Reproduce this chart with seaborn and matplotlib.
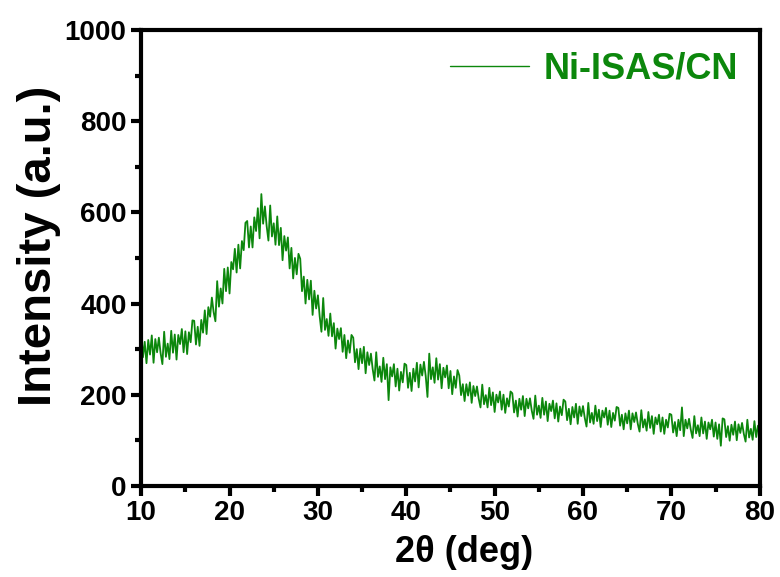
import numpy as np
import pandas as pd
import seaborn as sns
import matplotlib.pyplot as plt
from matplotlib.ticker import MultipleLocator

# 2theta from 10 to 80 deg, 0.2 deg step
two_theta = np.linspace(10, 80, 351)

# intensity (noisy XRD trace), 5 values per degree
intensity = [
    340, 282, 316, 269, 320,   # 10
    288, 330, 270, 322, 293,   # 11
    325, 291, 267, 338, 283,   # 12
    312, 278, 340, 292, 332,   # 13
    277, 331, 311, 344, 293,   # 14
    339, 289, 337, 315, 363,   # 15
    362, 310, 349, 307, 364,   # 16
    336, 385, 333, 392, 371,   # 17
    413, 381, 361, 449, 393,   # 18
    433, 400, 476, 427, 479,   # 19
    422, 491, 475, 520, 468,   # 20
    529, 477, 537, 517, 577,   # 21
    581, 523, 569, 523, 589,   # 22
    559, 609, 543, 640, 575,   # 23
    613, 570, 538, 615, 547,   # 24
    576, 529, 591, 528, 566,   # 25
    495, 548, 516, 545, 477,   # 26
    522, 455, 500, 464, 509,   # 27
    498, 427, 459, 400, 452,   # 28
    409, 450, 375, 428, 389,   # 29
    418, 372, 338, 412, 342,   # 30
    366, 329, 378, 328, 357,   # 31
    301, 345, 322, 346, 294,   # 32
    331, 280, 319, 292, 331,   # 33
    325, 271, 300, 256, 301,   # 34
    269, 305, 247, 293, 265,   # 35
    290, 256, 231, 293, 239,   # 36
    262, 228, 281, 234, 267,   # 37
    188, 260, 240, 267, 218,   # 38
    257, 209, 250, 227, 268,   # 39
    265, 215, 248, 208, 257,   # 40
    229, 270, 216, 266, 242,   # 41
    272, 241, 195, 290, 234,   # 42
    260, 226, 280, 233, 267,   # 43
    214, 259, 238, 264, 214,   # 44
    252, 201, 240, 215, 254,   # 45
    242, 199, 223, 186, 223,   # 46
    198, 227, 182, 219, 197,   # 47
    218, 191, 172, 222, 179,   # 48
    199, 172, 215, 177, 205,   # 49
    162, 200, 183, 207, 167,   # 50
    200, 160, 192, 174, 207,   # 51
    203, 161, 187, 152, 191,   # 52
    167, 197, 153, 191, 170,   # 53
    192, 165, 147, 198, 156,   # 54
    176, 149, 193, 156, 185,   # 55
    142, 180, 164, 187, 148,   # 56
    181, 141, 174, 155, 189,   # 57
    185, 144, 169, 135, 173,   # 58
    150, 180, 136, 174, 153,   # 59
    175, 149, 130, 182, 139,   # 60
    160, 136, 176, 142, 167,   # 61
    129, 165, 150, 171, 134,   # 62
    165, 129, 160, 143, 173,   # 63
    171, 132, 156, 124, 159,   # 64
    137, 165, 124, 159, 140,   # 65
    161, 136, 119, 166, 128,   # 66
    146, 121, 162, 127, 153,   # 67
    114, 150, 135, 156, 119,   # 68
    150, 114, 145, 128, 158,   # 69
    156, 117, 140, 109, 145,   # 70
    122, 172, 109, 145, 126,   # 71
    147, 123, 105, 153, 115,   # 72
    133, 109, 150, 115, 141,   # 73
    103, 139, 124, 145, 108,   # 74
    139, 103, 135, 88, 148,    # 75
    146, 107, 131, 99, 134,    # 76
    112, 141, 100, 135, 116,   # 77
    138, 114, 97, 145, 106,    # 78
    125, 101, 142, 107, 132,   # 79
    118,                       # 80
]

sample = "Ni-ISAS/CN"
line_color = "#0c870c"

df = pd.DataFrame({"2theta": two_theta, "Intensity": intensity})

sns.set_style("ticks")
plt.rcParams["font.family"] = ["Liberation Sans", "DejaVu Sans"]
plt.rcParams["font.weight"] = "bold"
for k in ["text.color", "axes.labelcolor", "xtick.color", "ytick.color", "axes.edgecolor"]:
    plt.rcParams[k] = "black"

fig = plt.figure(figsize=(7.8, 5.77), dpi=100)
ax = fig.add_axes([0.181, 0.158, 0.793, 0.79])

sns.lineplot(data=df, x="2theta", y="Intensity", ax=ax, color=line_color,
             linewidth=1.3, estimator=None, label=sample)

ax.set_xlim(10, 80)
ax.set_ylim(0, 1000)
ax.xaxis.set_major_locator(MultipleLocator(10))
ax.xaxis.set_minor_locator(MultipleLocator(5))
ax.yaxis.set_major_locator(MultipleLocator(200))
ax.yaxis.set_minor_locator(MultipleLocator(100))

for s in ax.spines.values():
    s.set_linewidth(3)
    s.set_visible(True)
    s.set_color("black")
ax.tick_params(which="major", length=7, width=3, labelsize=20, direction="out")
ax.tick_params(which="minor", length=4, width=3, direction="out")
for lab in ax.get_xticklabels() + ax.get_yticklabels():
    lab.set_fontweight("bold")

ax.set_xlabel("2θ (deg)", fontsize=26, fontweight="bold", labelpad=6, x=0.522)
ax.set_ylabel("Intensity (a.u.)", fontsize=34, fontweight="bold", labelpad=3, y=0.526)

leg = ax.legend(loc="upper right", frameon=False, handlelength=2.2,
                handletextpad=0.4, borderaxespad=0.2, labelcolor="linecolor",
                prop={"weight": "bold", "size": 26})
for h in leg.get_lines():
    h.set_linewidth(1.0)

fig.savefig("out.png", dpi=100)
